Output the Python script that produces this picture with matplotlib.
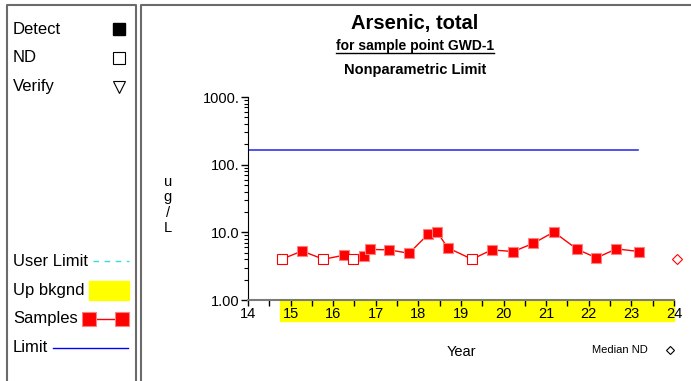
import numpy as np
import matplotlib.pyplot as plt
from matplotlib.patches import Rectangle
from matplotlib.lines import Line2D
from matplotlib.transforms import blended_transform_factory

# sample data (year as 2-digit decimal, ug/L)
years = [14.79, 15.27, 15.77, 16.26, 16.46, 16.72, 16.86, 17.32, 17.78, 18.23, 18.44,
         18.69, 19.26, 19.72, 20.23, 20.70, 21.18, 21.73, 22.18, 22.65, 23.18]
values = [4.0, 5.3, 4.0, 4.6, 4.0, 4.5, 5.6, 5.5, 4.9, 9.4, 10.1,
          5.9, 4.0, 5.5, 5.2, 6.9, 10.1, 5.6, 4.2, 5.7, 5.2]
detect = [0, 1, 0, 1, 0, 1, 1, 1, 1, 1, 1,
          1, 0, 1, 1, 1, 1, 1, 1, 1, 1]
median_nd_year = 24.08
median_nd = 4.0
limit_value = 165.0
limit_span = [14.0, 23.15]
bkgnd_span = [14.75, 24.0]
ytick_vals = [1, 10, 100, 1000]
ytick_labels = ['1.00', '10.0', '100.', '1000.']

W, H = 691, 381
fig = plt.figure(figsize=(W / 100, H / 100), dpi=100)
plt.rcParams['font.family'] = ['Liberation Sans', 'DejaVu Sans']


def fx(px):
    return px / W


def fy(py):
    return 1 - py / H


# panel borders
bc = '#6b6b6b'
fig.add_artist(Line2D([fx(7), fx(7), fx(136), fx(136)], [0, fy(5), fy(5), 0], color=bc, lw=1.5))
fig.add_artist(Line2D([fx(141), fx(141), 1.0], [0, fy(5), fy(5)], color=bc, lw=1.5))

# legend panel
lfs = 12
fig.text(fx(13), fy(29), 'Detect', fontsize=lfs, va='center')
fig.add_artist(Line2D([fx(119)], [fy(29)], marker='s', ms=8, color='black', ls='none'))
fig.text(fx(13), fy(58), 'ND', fontsize=lfs, va='center')
fig.add_artist(Line2D([fx(119)], [fy(58)], marker='s', ms=8, mfc='white', mec='black', mew=0.8, ls='none'))
fig.text(fx(13), fy(87), 'Verify', fontsize=lfs, va='center')
fig.add_artist(Line2D([fx(119)], [fy(87)], marker='v', ms=9, mfc='white', mec='black', mew=0.8, ls='none'))
fig.text(fx(13), fy(261), 'User Limit', fontsize=lfs, va='center')
fig.add_artist(Line2D([fx(93), fx(129)], [fy(261), fy(261)], color='#33dddd', lw=1, ls=(0, (4, 4))))
fig.text(fx(13), fy(290), 'Up bkgnd', fontsize=lfs, va='center')
fig.add_artist(Rectangle((fx(89), fy(300)), fx(129) - fx(89), fy(281) - fy(300), color='#ffff00'))
fig.text(fx(13), fy(319), 'Samples', fontsize=lfs, va='center')
fig.add_artist(Line2D([fx(89), fx(122)], [fy(319), fy(319)], color='red', lw=1,
                      marker='s', ms=10, mfc='red', mec='#ff8080', mew=0.8))
fig.text(fx(13), fy(348), 'Limit', fontsize=lfs, va='center')
fig.add_artist(Line2D([fx(53), fx(128)], [fy(348), fy(348)], color='blue', lw=1))

# titles
cx = fx(415)
fig.text(cx, fy(24), 'Arsenic, total', fontsize=14.5, fontweight='bold', ha='center', va='center')
t2 = fig.text(cx, fy(46), 'for sample point GWD-1', fontsize=10, fontweight='bold', ha='center', va='center')
fig.text(cx, fy(70), 'Nonparametric Limit', fontsize=10.5, fontweight='bold', ha='center', va='center')

# main plot
ax = fig.add_axes([fx(248), fy(300), fx(674) - fx(248), fy(97) - fy(300)])
ax.set_yscale('log')
ax.set_ylim(1, 1000)
ax.set_xlim(14, 24)
for s in ['top', 'right']:
    ax.spines[s].set_visible(False)
ax.spines['bottom'].set_color('#7a7a7a')
ax.spines['bottom'].set_linewidth(1.5)

ax.set_yticks(ytick_vals)
ax.set_yticklabels(ytick_labels, fontsize=10.5)
ax.tick_params(axis='y', which='major', length=5, width=1, pad=1)
ax.tick_params(axis='y', which='minor', length=3, width=0.8)
ax.set_xticks(np.arange(14, 25, 1))
ax.set_xticklabels([str(v) for v in range(14, 25)], fontsize=10.5)
ax.set_xticks(np.arange(14.5, 24, 1), minor=True)
ax.tick_params(axis='x', which='both', length=4, width=1, pad=1)

# upper background band beneath the axis
tr = blended_transform_factory(ax.transData, ax.transAxes)
ax.add_patch(Rectangle((bkgnd_span[0], -21 / 203), bkgnd_span[1] - bkgnd_span[0], 21 / 203,
                       transform=tr, color='#ffff00', clip_on=False, zorder=0))

ax.plot(limit_span, [limit_value, limit_value], color='#3333ee', lw=1.2)

ax.plot(years, values, color='red', lw=1, zorder=3)
yd = [y for y, d in zip(years, detect) if d]
vd = [v for v, d in zip(values, detect) if d]
yn = [y for y, d in zip(years, detect) if not d]
vn = [v for v, d in zip(values, detect) if not d]
ax.plot(yd, vd, 's', ms=7, mfc='red', mec='#ff8080', mew=0.8, zorder=4)
ax.plot(yn, vn, 's', ms=7, mfc='white', mec='red', mew=0.8, zorder=4)
ax.plot([median_nd_year], [median_nd], 'D', ms=5, mfc='white', mec='red', mew=0.8,
        clip_on=False, zorder=4)

fig.text(fx(168), fy(205), 'u\ng\n/\nL', fontsize=10.5, ha='center', va='center', linespacing=1.1)
fig.text(fx(461), fy(352), 'Year', fontsize=10.5, ha='center', va='center')
fig.text(fx(620), fy(350), 'Median ND', fontsize=8, ha='center', va='center')
fig.add_artist(Line2D([fx(670)], [fy(350)], marker='D', ms=4.5, mfc='white', mec='black', mew=0.8, ls='none'))

# underline the subtitle to match its text width
fig.canvas.draw()
bb = t2.get_window_extent().transformed(fig.transFigure.inverted())
fig.add_artist(Line2D([bb.x0, bb.x1], [fy(52.5), fy(52.5)], color='black', lw=1))

fig.savefig('out.png', dpi=100)
